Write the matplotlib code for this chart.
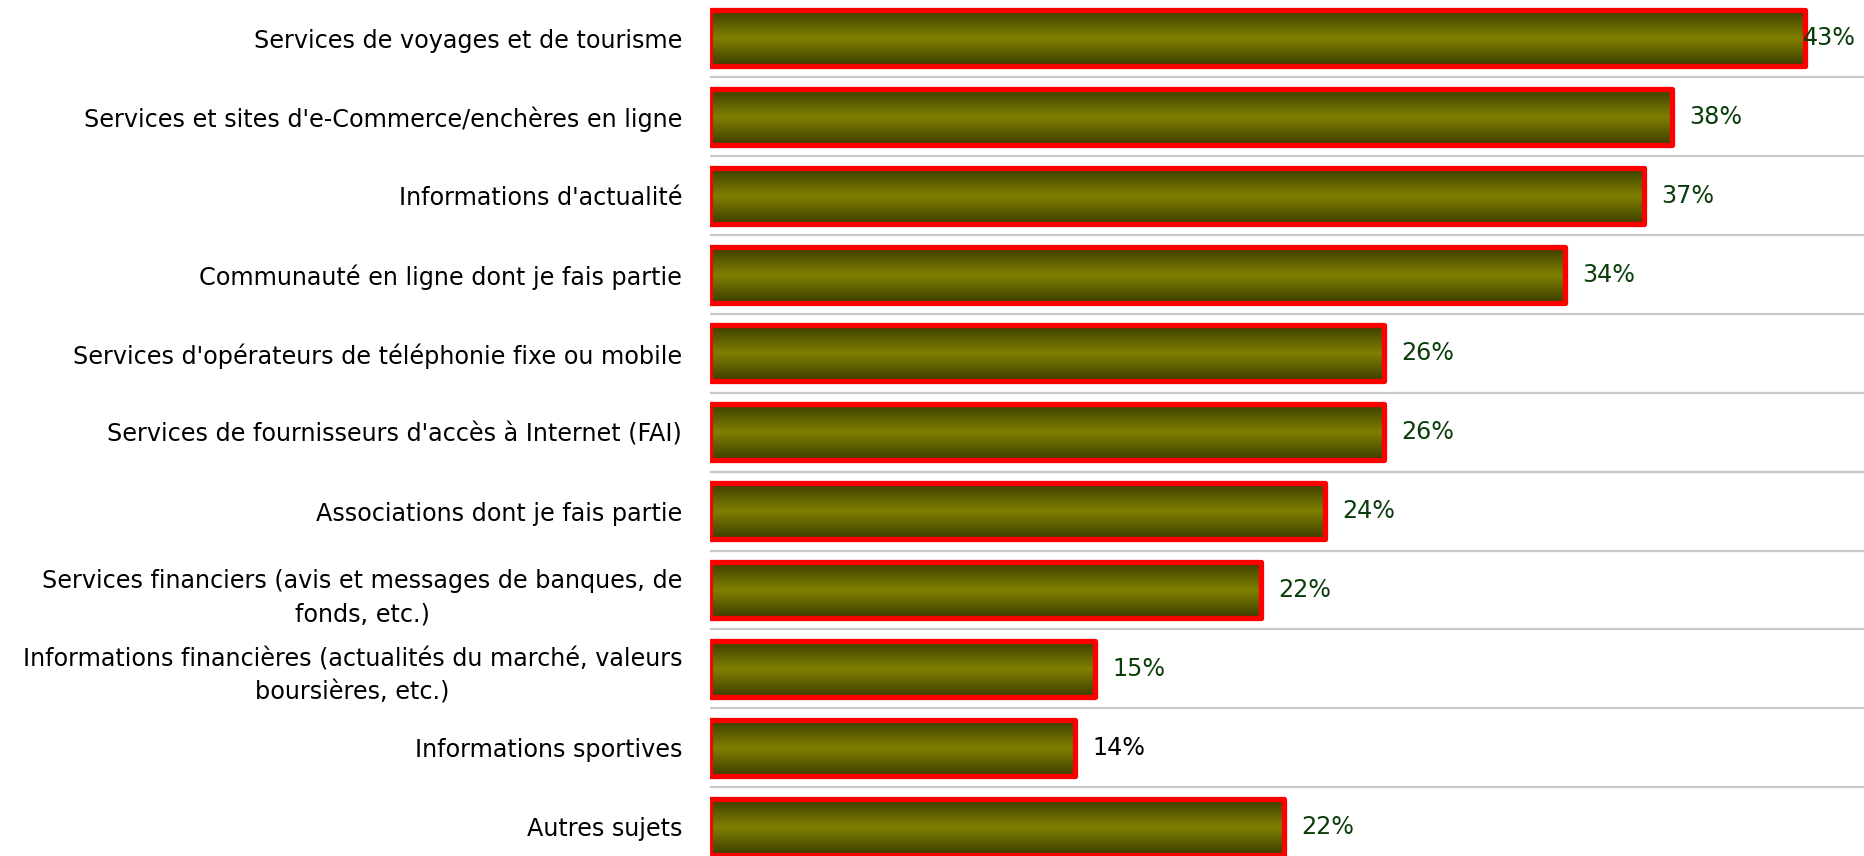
import numpy as np
import matplotlib
matplotlib.use("Agg")
import matplotlib.pyplot as plt

categories = [
    "Services de voyages et de tourisme",
    "Services et sites d'e-Commerce/enchères en ligne",
    "Informations d'actualité",
    "Communauté en ligne dont je fais partie",
    "Services d'opérateurs de téléphonie fixe ou mobile",
    "Services de fournisseurs d'accès à Internet (FAI)",
    "Associations dont je fais partie",
    "Services financiers (avis et messages de banques, de\nfonds, etc.)",
    "Informations financières (actualités du marché, valeurs\nboursières, etc.)",
    "Informations sportives",
    "Autres sujets",
]
values = [42.9, 37.7, 36.6, 33.5, 26.4, 26.4, 24.1, 21.6, 15.1, 14.3, 22.5]
label_colors = ["#0b3d0b"] * 9 + ["black", "#0b3d0b"]

xmax = 45.23
fs = 17.2
plt.rcParams['font.family'] = ['DejaVu Sans']

fig = plt.figure(figsize=(18.64, 8.56), dpi=100)
ax = fig.add_axes([710 / 1864, -10 / 856, 1 - 710 / 1864, 867.4 / 856])

y = np.arange(len(categories))

# vertical gradient: dark olive at the edges, bright olive in the middle
t = np.abs(np.linspace(-1, 1, 64))
dark = np.array([0x3c, 0x3e, 0x00]) / 255
light = np.array([0x80, 0x80, 0x00]) / 255
grad = (light[None, :] * (1 - t[:, None]) + dark[None, :] * t[:, None])[:, None, :]

bars = ax.barh(y, values, height=0.71, color='none', edgecolor='#ff0000',
               linewidth=3.8, zorder=3)
for b in bars:
    b.set_joinstyle('round')
    x0, y0, w, h = b.get_x(), b.get_y(), b.get_width(), b.get_height()
    im = ax.imshow(grad, extent=[x0, x0 + w, y0 + h, y0], aspect='auto',
                   interpolation='bilinear', zorder=2)
    im.set_clip_path(b)

for i in range(len(categories) - 1):
    ax.axhline(i + 0.5, color='#c8c8c8', lw=1.6, zorder=1)

for yi, v, c in zip(y, values, label_colors):
    x = min(v + 0.69, xmax - 2.4)
    ax.text(x, yi, f"{round(v)}%", va='center', ha='left', fontsize=fs,
            color=c, zorder=4)

ax.set_xlim(0, xmax)
ax.set_ylim(len(categories) - 0.5, -0.5)
ax.set_yticks(y)
ax.set_yticklabels(categories, fontsize=fs)
for lbl in ax.get_yticklabels():
    lbl.set_multialignment('center')
    lbl.set_linespacing(1.5)
ax.tick_params(axis='y', length=0, pad=20)
ax.set_xticks([])
for s in ax.spines.values():
    s.set_visible(False)

fig.savefig("out.png", dpi=100)
